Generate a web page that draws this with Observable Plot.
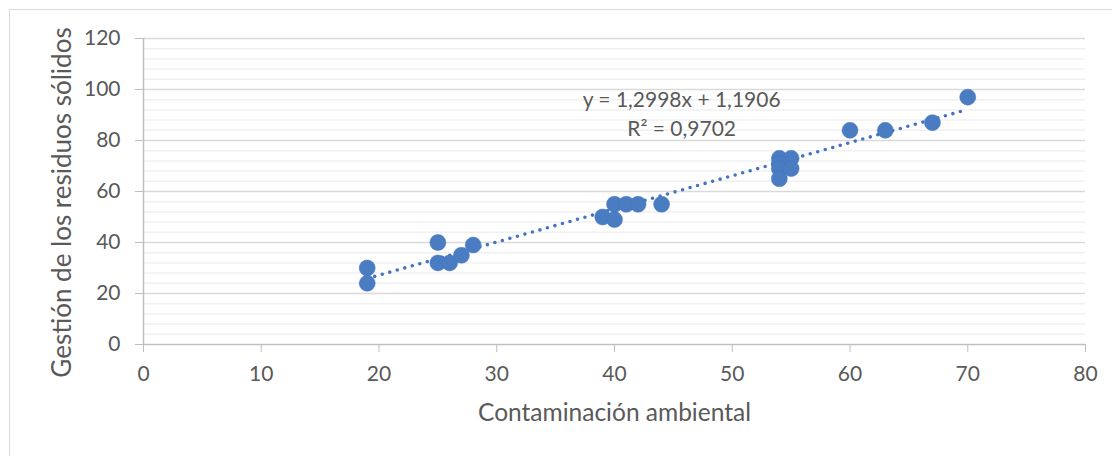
<!DOCTYPE html>
<html>
<head>
<meta charset="utf-8">
<script src="https://cdn.jsdelivr.net/npm/d3@7"></script>
<script src="https://cdn.jsdelivr.net/npm/@observablehq/plot@0.6"></script>
<style>
  html, body { margin: 0; padding: 0; background: #fff; overflow: hidden; }
  #wrap { position: relative; width: 1112px; height: 456px; }
  #border { position: absolute; left: 9px; top: 9px; width: 1200px; height: 600px;
            border-left: 1.5px solid #d9d9d9; border-top: 1.5px solid #d9d9d9; pointer-events: none; }
  svg { font-family: Lato, "Open Sans", sans-serif; }
</style>
</head>
<body>
<div id="wrap"><div id="border"></div></div>
<script>
// Data
const contaminacion = [19, 19, 25, 25, 26, 27, 28, 39, 40, 40, 41, 42, 44, 54, 55, 54, 54, 55, 54, 60, 63, 67, 70];
const gestion       = [30, 24, 40, 32, 32, 35, 39, 50, 49, 55, 55, 55, 55, 73, 73, 71, 69, 69, 65, 84, 84, 87, 97];
const slope = 1.2998, intercept = 1.1906;
const trendRange = [19, 70];
const eqLabels = ["y = 1,2998x + 1,1906", "R² = 0,9702"];
const eqX = [45.7, 45.7];
const eqY = [95.6, 84.6];
const xTicks = [0, 10, 20, 30, 40, 50, 60, 70, 80];
const yTicks = [0, 20, 40, 60, 80, 100, 120];
const yMinor = d3.range(0, 121, 4).filter(v => v % 20 !== 0);
const xTitle = "Contaminación ambiental";
const yTitle = "Gestión de los residuos sólidos";

const points = contaminacion.map((x, i) => ({x, y: gestion[i]}));
const trend = trendRange.map(x => ({x, y: slope * x + intercept}));
const eq = eqLabels.map((t, i) => ({t, x: eqX[i], y: eqY[i]}));

const gray = "#595959";
const chart = Plot.plot({
  width: 1112,
  height: 456,
  marginLeft: 143,
  marginRight: 27,
  marginTop: 38,
  marginBottom: 112,
  style: {fontFamily: "Lato, 'Open Sans', sans-serif", fontSize: "21px", color: gray, background: "transparent", overflow: "visible"},
  x: {domain: [0, 80]},
  y: {domain: [0, 120]},
  marks: [
    Plot.ruleY(yMinor, {stroke: "#f0f0f0", strokeWidth: 1.5}),
    Plot.ruleY(yTicks.filter(v => v > 0), {stroke: "#d9d9d9", strokeWidth: 1.5}),
    Plot.ruleY([0], {stroke: "#bfbfbf", strokeWidth: 1.5}),
    Plot.ruleX([0], {stroke: "#bfbfbf", strokeWidth: 1.5}),
    Plot.axisY({ticks: yTicks, tickSize: 8, tickPadding: 15, stroke: "#bfbfbf", label: null, fill: gray, fontSize: 21}),
    Plot.axisX({ticks: xTicks, tickSize: 8, tickPadding: 14, stroke: "#bfbfbf", label: null, fill: gray, fontSize: 21}),
    Plot.text([xTitle], {frameAnchor: "bottom", dy: 76, fill: gray, fontSize: 24.5}),
    Plot.text([yTitle], {frameAnchor: "left", textAnchor: "middle", dx: -81, dy: 11, rotate: -90, fill: gray, fontSize: 26}),
    Plot.line(trend, {x: "x", y: "y", stroke: "#4472C4", strokeWidth: 3.6, strokeDasharray: "0,7.8", strokeLinecap: "round"}),
    Plot.dot(points, {x: "x", y: "y", r: 8, fill: "#4a7cc2", stroke: "#4472C4", strokeWidth: 0.5}),
    Plot.text(eq, {x: "x", y: "y", text: "t", fill: gray, fontSize: 21})
  ]
});
document.getElementById("wrap").appendChild(chart);
chart.style.position = "absolute";
chart.style.left = "0";
chart.style.top = "0";
</script>
</body>
</html>
